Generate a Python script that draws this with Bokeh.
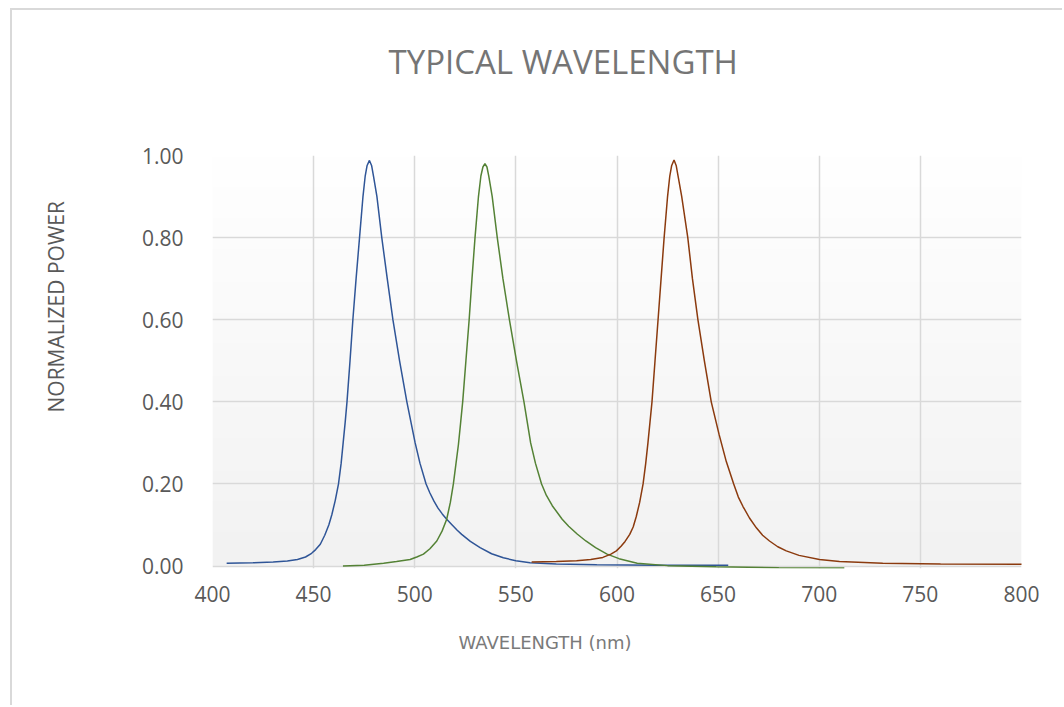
import numpy as np
from bokeh.plotting import figure
from bokeh.models import FixedTicker, NumeralTickFormatter, Range1d, Title
from bokeh.embed import file_html
from bokeh.resources import INLINE

# ---- data ----
blue_x = [407, 420, 430, 437, 442, 446, 449, 451, 453.3, 455.5, 457.5, 459, 460.7, 462.3, 463.6,
          464.6, 465.6, 466.5, 468, 469.4, 471, 472.7, 474.4, 475.5, 476.4, 477.6, 478.7, 479.6,
          481.3, 483.7, 486.4, 489.2, 492.5, 496.1, 500.2, 502.6, 505.6, 507.5, 509.5, 511.5,
          513.6, 515.8, 518.5, 521, 523.2, 527.5, 532.3, 538, 543.8, 550, 557, 570, 590, 620, 655]
blue_y = [0.007, 0.008, 0.010, 0.012, 0.016, 0.022, 0.031, 0.040, 0.053, 0.075, 0.10, 0.125, 0.16,
          0.20, 0.25, 0.30, 0.35, 0.40, 0.50, 0.60, 0.70, 0.80, 0.90, 0.95, 0.975, 0.988, 0.975,
          0.95, 0.90, 0.80, 0.70, 0.60, 0.50, 0.40, 0.30, 0.25, 0.20, 0.178, 0.158, 0.141, 0.127,
          0.114, 0.10, 0.087, 0.077, 0.06, 0.045, 0.03, 0.02, 0.013, 0.008, 0.005, 0.003, 0.002,
          0.002]

green_x = [464.5, 475, 484.6, 491, 497.7, 501, 504.3, 507.5, 510.9, 513.5, 515.8, 517.6, 519.1,
           520.4, 521.6, 522.7, 523.7, 525.3, 526.9, 528.3, 529.8, 531.5, 532.7, 533.7, 534.7,
           535.7, 536.6, 538.3, 540.8, 543.6, 546.8, 550.3, 554.0, 557.3, 559.7, 562.7, 565.1,
           568, 572.9, 576.1, 580.3, 584.6, 589.4, 595.1, 601, 610, 625, 649, 680, 712.4]
green_y = [0.000, 0.002, 0.007, 0.011, 0.016, 0.022, 0.029, 0.042, 0.061, 0.085, 0.114, 0.155, 0.20,
           0.25, 0.296, 0.35, 0.40, 0.50, 0.60, 0.70, 0.80, 0.90, 0.95, 0.972, 0.980, 0.972, 0.95,
           0.90, 0.80, 0.70, 0.60, 0.50, 0.40, 0.30, 0.25, 0.20, 0.172, 0.147, 0.114, 0.097, 0.078,
           0.061, 0.045, 0.029, 0.018, 0.007, 0.001, -0.002, -0.004, -0.005]

red_x = [557.8, 570, 580, 587, 593, 597, 599.7, 602, 604, 606.3, 608, 609.5, 611.2, 612.9, 614.2,
         615.3, 616.3, 617.3, 618.8, 620.3, 621.8, 623.3, 625, 626.1, 627, 628.2, 629.3, 630.2,
         632, 635, 637.3, 640, 643.2, 646.6, 650.5, 654, 657.7, 660, 662.3, 665.5, 668.9, 672,
         675.4, 679.5, 683.7, 690, 700.1, 710, 731.4, 760, 805]
red_y = [0.010, 0.011, 0.013, 0.016, 0.021, 0.029, 0.037, 0.048, 0.060, 0.077, 0.095, 0.12, 0.155,
         0.20, 0.25, 0.30, 0.35, 0.40, 0.50, 0.60, 0.70, 0.80, 0.90, 0.95, 0.975, 0.989, 0.975, 0.95,
         0.90, 0.80, 0.70, 0.60, 0.50, 0.40, 0.32, 0.255, 0.20, 0.168, 0.145, 0.117, 0.093, 0.075,
         0.061, 0.047, 0.037, 0.026, 0.016, 0.011, 0.007, 0.005, 0.004]

x_ticks = [400, 450, 500, 550, 600, 650, 700, 750, 800]
y_ticks = [0.0, 0.2, 0.4, 0.6, 0.8, 1.0]

title_text = "TYPICAL WAVELENGTH"
x_label = "WAVELENGTH  (nm)"
y_label = "NORMALIZED POWER"

FONT = "Open Sans"

p = figure(width=1052, height=697, output_backend="svg", toolbar_location=None,
           x_range=Range1d(400, 800), y_range=Range1d(-0.006, 1.0),
           min_border_left=200, min_border_right=43, min_border_top=145, min_border_bottom=139)
p.margin = (8, 0, 0, 10)
p.styles = {"border-top": "2px solid #d9d9d9", "border-left": "2px solid #d9d9d9",
            "border-right": "0px none", "border-bottom": "0px none",
            "outline": "none", "box-shadow": "none", "overflow": "hidden"}
p.title_location = None

p.background_fill_color = "white"
p.border_fill_color = "white"
p.outline_line_color = None

# gradient background of plot area
n = 200
t = np.linspace(0, 1, n)  # 0 bottom, 1 top
c = (242 + (255 - 242) * t).astype(np.uint32)
img = np.empty((n, 1), dtype=np.uint32)
view = img.view(dtype=np.uint8).reshape((n, 1, 4))
view[:, 0, 0] = c
view[:, 0, 1] = c
view[:, 0, 2] = c
view[:, 0, 3] = 255
p.image_rgba(image=[img], x=x_ticks[0], y=y_ticks[0], dw=x_ticks[-1] - x_ticks[0],
             dh=y_ticks[-1] - y_ticks[0], level="image")

p.line(blue_x, blue_y, line_color="#2F5597", line_width=1.5)
p.line(green_x, green_y, line_color="#548235", line_width=1.5)
p.line(red_x, red_y, line_color="#8B3A0E", line_width=1.5)

for ax in (p.xaxis[0], p.yaxis[0]):
    ax.axis_line_color = None
    ax.major_tick_line_color = None
    ax.minor_tick_line_color = None
    ax.major_label_text_font = FONT
    ax.major_label_text_font_size = "21px"
    ax.major_label_text_color = "#595959"

p.xaxis.ticker = FixedTicker(ticks=x_ticks)
p.yaxis.ticker = FixedTicker(ticks=y_ticks)
p.yaxis.formatter = NumeralTickFormatter(format="0.00")
p.xaxis.major_label_standoff = 11
p.yaxis.major_label_standoff = 23

p.xgrid.ticker = FixedTicker(ticks=x_ticks)
p.ygrid.ticker = FixedTicker(ticks=y_ticks)
p.grid.grid_line_color = "#d9d9d9"
p.grid.grid_line_width = 1.5

# spacers (blank) then the real titles; side panels stack outward from the frame
p.add_layout(Title(text=" ", text_font_size="1px", standoff=64), "above")
p.add_layout(Title(text=title_text, align="left", offset=176, standoff=10,
                   text_font=FONT, text_font_style="normal", text_font_size="33px",
                   text_color="#757575"), "above")

p.add_layout(Title(text=x_label, align="left", offset=246, standoff=51,
                   text_font="DejaVu Sans", text_font_style="normal", text_font_size="18px",
                   text_color="#7a7a7a"), "below")

p.add_layout(Title(text=" ", text_font_size="1px", standoff=56), "left")
p.add_layout(Title(text=y_label, align="left", offset=156, standoff=20,
                   text_font=FONT, text_font_style="normal", text_font_size="21px",
                   text_color="#595959"), "left")

open("out.html", "w").write(file_html(p, INLINE))
